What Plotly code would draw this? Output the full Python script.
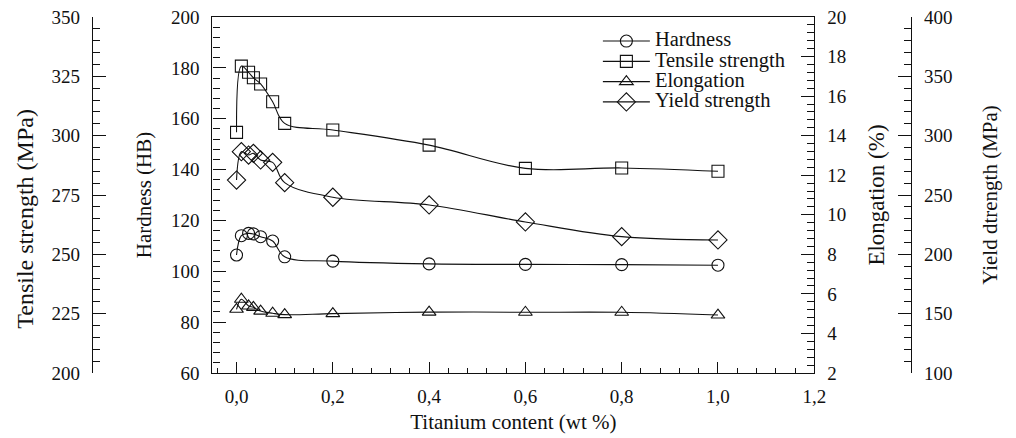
import plotly.graph_objects as go

# Titanium content (wt %)
ti = [0, 0.01, 0.025, 0.035, 0.05, 0.075, 0.1, 0.2, 0.4, 0.6, 0.8, 1.0]
hardness = [106.4, 114.0, 114.9, 114.7, 113.6, 111.9, 105.7, 104.0, 102.9, 102.7, 102.6, 102.4]
tensile = [301.4, 329.3, 326.7, 324.4, 321.8, 314.3, 305.2, 302.4, 296.0, 286.2, 286.4, 285.0]
elongation = [5.22, 5.73, 5.39, 5.32, 5.13, 5.02, 4.95, 5.00, 5.08, 5.07, 5.07, 4.93]
yield_strength = [262.6, 286.5, 283.7, 285.1, 279.5, 277.5, 260.4, 248.1, 241.6, 227.3, 214.9, 212.1]
series_names = ["Hardness", "Tensile strength", "Elongation", "Yield strength"]

FONT = "Liberation Serif, Times New Roman, Times, serif"
BLACK = "#111111"

def tr(y, name, symbol, axis, size=12):
    return go.Scatter(
        x=ti, y=y, name='<span style="font-size:20.5px">' + name + '</span>',
        yaxis=axis, mode="lines+markers",
        line=dict(color=BLACK, width=1.1, shape="spline", smoothing=1.0),
        marker=dict(symbol=symbol, size=size, color=BLACK, line=dict(width=1.1, color=BLACK)),
    )

fig = go.Figure()
fig.add_trace(tr(hardness, series_names[0], "circle-open", "y", 12))
fig.add_trace(tr(tensile, series_names[1], "square-open", "y2", 12))
fig.add_trace(tr(elongation, series_names[2], "triangle-up-open", "y3", 12))
fig.add_trace(tr(yield_strength, series_names[3], "diamond-open", "y4", 14))

tickfont = dict(family=FONT, size=19, color=BLACK)
titlefont = dict(family=FONT, size=21, color=BLACK)

common_y = dict(
    showgrid=False, zeroline=False, showline=True, linecolor=BLACK, linewidth=1.3,
    ticks="inside", ticklen=13, tickwidth=1.3, tickcolor=BLACK,
    tickfont=tickfont, ticklabelstandoff=8,
)

fig.update_layout(
    width=1016, height=438,
    margin=dict(l=0, r=0, t=17, b=65),
    paper_bgcolor="white", plot_bgcolor="white",
    separators=", ",
    showlegend=True,
    font=dict(family=FONT, color=BLACK),
    legend=dict(
        x=0.5955, y=0.975, xanchor="left", yanchor="top",
        bgcolor="rgba(0,0,0,0)", font=dict(family=FONT, size=13.3, color=BLACK),
        tracegroupgap=0, itemwidth=47,
    ),
    xaxis=dict(
        domain=[215 / 1016, 824 / 1016],
        range=[-0.05, 1.2], tick0=0, dtick=0.2, tickformat=".1f",
        showgrid=False, zeroline=False, showline=True, mirror=True,
        linecolor=BLACK, linewidth=1.3,
        ticks="inside", ticklen=11, tickwidth=1.3, tickcolor=BLACK,
        minor=dict(ticks="inside", dtick=0.04, ticklen=5, tickwidth=1.1, tickcolor=BLACK),
        tickfont=tickfont, ticklabelstandoff=6,
        title=dict(text="Titanium content (wt %)", font=titlefont, standoff=8),
    ),
    yaxis=dict(
        **common_y, range=[60, 200], dtick=20, side="left", anchor="x",
        minor=dict(ticks="inside", dtick=4, ticklen=7, tickwidth=1.1, tickcolor=BLACK),
        title=dict(text="Hardness (HB)", font=titlefont, standoff=13),
    ),
    yaxis2=dict(
        **common_y, range=[200, 350], dtick=25, side="left", overlaying="y",
        anchor="free", position=93 / 1016,
        minor=dict(ticks="inside", dtick=5, ticklen=7, tickwidth=1.1, tickcolor=BLACK),
    ),
    yaxis3=dict(
        **common_y, range=[2, 20], dtick=2, side="right", overlaying="y", anchor="x",
        minor=dict(ticks="inside", dtick=0.4, ticklen=7, tickwidth=1.1, tickcolor=BLACK),
        title=dict(text="Elongation (%)", font=dict(family=FONT, size=23, color=BLACK), standoff=22),
    ),
    yaxis4=dict(
        **common_y, range=[100, 400], dtick=50, side="right", overlaying="y",
        anchor="free", position=922 / 1016,
        minor=dict(ticks="inside", dtick=10, ticklen=7, tickwidth=1.1, tickcolor=BLACK),
        title=dict(text="Yield dtrength (MPa)", font=titlefont, standoff=30),
    ),
    annotations=[
        dict(
            text="Tensile strength (MPa)", textangle=-90,
            xref="paper", yref="paper", x=25 / 1016, y=(373 - 219) / 356,
            xanchor="center", yanchor="middle", showarrow=False,
            font=dict(family=FONT, size=24, color=BLACK),
        )
    ],
)

fig.write_html("out.html")
